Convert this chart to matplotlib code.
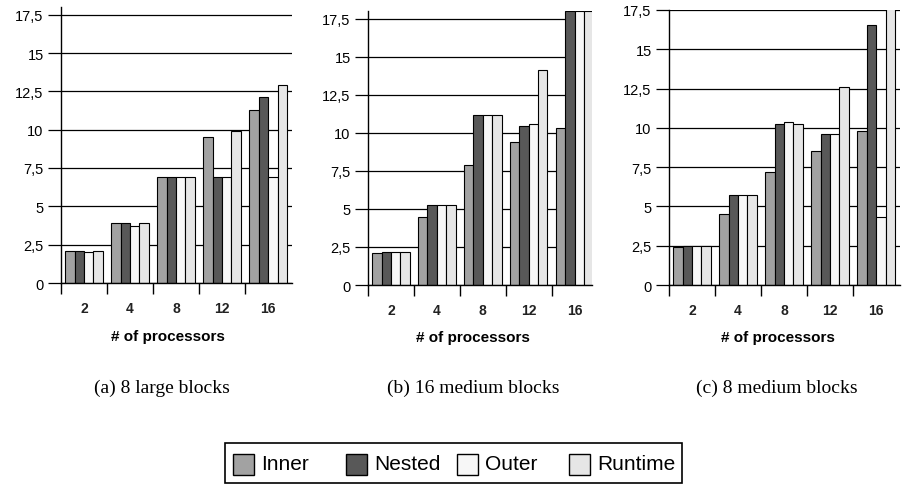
import numpy as np
import matplotlib
matplotlib.use("Agg")
import matplotlib.pyplot as plt
from matplotlib.patches import Rectangle

plt.rcParams['font.family'] = ['Liberation Sans', 'DejaVu Sans']

procs = ['2', '4', '8', '12', '16']
series = ['Inner', 'Nested', 'Outer', 'Runtime']
colors = ['#a2a2a2', '#585858', '#f7f7f7', '#e6e6e6']

# speedups, one list per series
a_inner = [2.1, 3.9, 6.9, 9.55, 11.3]
a_nested = [2.1, 3.9, 6.9, 6.9, 12.15]
a_outer = [2.0, 3.75, 6.9, 6.9, 6.9]
a_runtime = [2.1, 3.9, 6.9, 9.9, 12.9]

b_inner = [2.1, 4.5, 7.9, 9.4, 10.3]
b_nested = [2.2, 5.25, 11.15, 10.45, 18.0]
b_outer = [2.2, 5.25, 11.15, 10.55, 18.0]
b_runtime = [2.2, 5.25, 11.15, 14.1, 18.0]

c_inner = [2.45, 4.5, 7.2, 8.55, 9.8]
c_nested = [2.5, 5.7, 10.25, 9.6, 16.55]
c_outer = [2.5, 5.7, 10.4, 9.6, 4.3]
c_runtime = [2.5, 5.7, 10.25, 12.6, 18.0]

captions = ['(a) 8 large blocks', '(b) 16 medium blocks', '(c) 8 medium blocks']
yticks = [0, 2.5, 5, 7.5, 10, 12.5, 15, 17.5]
ytick_labels = ['0', '2,5', '5', '7,5', '10', '12,5', '15', '17,5']

W, H = 908, 485
fig = plt.figure(figsize=(W / 100, H / 100), dpi=100)

# panel boxes in pixels: left, top, right, bottom ; x limit ; y top
panels = [
    ([a_inner, a_nested, a_outer, a_runtime], (61, 8, 292, 284), 4.52, 18.0),
    ([b_inner, b_nested, b_outer, b_runtime], (368, 12, 592, 286), 4.38, 18.0),
    ([c_inner, c_nested, c_outer, c_runtime], (669, 11, 900, 286), 4.52, 17.5),
]
cap_x = [162, 473, 777]

x = np.arange(len(procs))
w = 0.205
for (data, (l, t, r, b), xmax, ymax), cap, cx in zip(panels, captions, cap_x):
    ax = fig.add_axes([l / W, 1 - b / H, (r - l) / W, (b - t) / H])
    for k, vals in enumerate(data):
        ax.bar(x + (k - 1.5) * w, vals, w, color=colors[k], edgecolor='black',
               linewidth=0.8, zorder=2)
    ax.set_xlim(-0.5, xmax)
    ax.set_ylim(0, ymax)
    ax.set_yticks(yticks)
    ax.set_yticklabels(ytick_labels, fontsize=10.5)
    ax.grid(axis='y', color='black', linewidth=0.9, zorder=0)
    ax.set_axisbelow(True)
    ax.tick_params(axis='y', direction='out', length=9.5, width=0.9, pad=3,
                   color='black')
    ax.set_xticks(x)
    ax.set_xticklabels(procs, fontsize=10, fontweight='bold', color='#222222')
    ax.set_xticks(np.arange(len(procs)) - 0.5, minor=True)
    ax.tick_params(axis='x', which='major', length=0, pad=13)
    ax.tick_params(axis='x', which='minor', length=8, width=1.0, direction='out')
    for s in ['top', 'right']:
        ax.spines[s].set_visible(False)
    ax.spines['left'].set_linewidth(1.0)
    ax.spines['bottom'].set_linewidth(1.0)
    ax.set_xlabel('# of processors', fontsize=11, fontweight='bold')
    ax.xaxis.set_label_coords((168 - l) / (r - l) if l == 61 else 0.47, -0.165)
    fig.text(cx / W, 1 - 388 / H, cap, ha='center', va='center',
             fontsize=14, family=['Liberation Serif', 'DejaVu Serif'])

# legend box drawn in pixel positions
fig.patches.append(Rectangle((225 / W, 1 - 484 / H), 457 / W, 40 / H,
                             transform=fig.transFigure, facecolor='white',
                             edgecolor='black', linewidth=1.2))
patch_x = [233, 346, 457, 569]
for px, name, col in zip(patch_x, series, colors):
    fig.patches.append(Rectangle((px / W, 1 - 476 / H), 21 / W, 21 / H,
                                 transform=fig.transFigure, facecolor=col,
                                 edgecolor='black', linewidth=1.0))
    fig.text((px + 28) / W, 1 - 465 / H, name, ha='left', va='center', fontsize=15)

fig.savefig('out.png', dpi=100)
